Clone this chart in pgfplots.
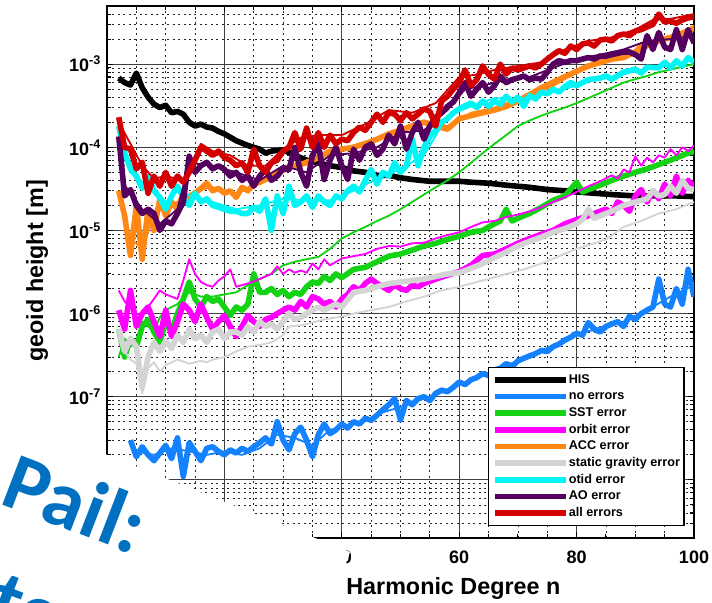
\documentclass[border=0pt]{standalone}
\usepackage{pgfplots}
\pgfplotsset{compat=1.18}
\usepackage{fontspec}
\setmainfont{Liberation Sans}
\newfontfamily\carlito{Carlito}
\definecolor{cNo}{RGB}{20,130,255}
\definecolor{cSST}{RGB}{20,210,20}
\definecolor{cOrb}{RGB}{255,0,255}
\definecolor{cACC}{RGB}{255,135,20}
\definecolor{cSta}{RGB}{212,212,212}
\definecolor{cOt}{RGB}{0,245,245}
\definecolor{cAO}{RGB}{85,0,95}
\definecolor{cAll}{RGB}{210,0,0}
\definecolor{pailblue}{RGB}{0,112,192}
\pgfplotsset{thk/.style={line width=4.2pt, line join=round},
  thn/.style={line width=1.4pt, line join=round, forget plot}}
\begin{document}
\begin{tikzpicture}
\useasboundingbox (0,0) rectangle (534pt,451.5pt);
\clip (0,0) rectangle (534pt,451.5pt);
\begin{axis}[
  at={(80.25pt,48pt)}, anchor=south west,
  scale only axis, width=440.25pt, height=399pt,
  xmin=0, xmax=100, ymin=2e-9, ymax=5e-3, ymode=log,
  xtick={0,20,40,60,80,100},
  xticklabels={{},{},\textbf{40},\textbf{60},\textbf{80},\textbf{100}},
  minor x tick num=3,
  ytick={1e-8,1e-7,1e-6,1e-5,1e-4,1e-3},
  yticklabels={{},10\textsuperscript{-7},10\textsuperscript{-6},10\textsuperscript{-5},10\textsuperscript{-4},10\textsuperscript{-3}},
  minor ytick={2e-9,3e-9,4e-9,5e-9,6e-9,7e-9,8e-9,9e-9,
    2e-8,3e-8,4e-8,5e-8,6e-8,7e-8,8e-8,9e-8,
    2e-7,3e-7,4e-7,5e-7,6e-7,7e-7,8e-7,9e-7,
    2e-6,3e-6,4e-6,5e-6,6e-6,7e-6,8e-6,9e-6,
    2e-5,3e-5,4e-5,5e-5,6e-5,7e-5,8e-5,9e-5,
    2e-4,3e-4,4e-4,5e-4,6e-4,7e-4,8e-4,9e-4,
    2e-3,3e-3,4e-3},
  ticklabel style={font=\bfseries\fontsize{13.5}{16}\selectfont},
  xticklabel style={yshift=-6pt},
  yticklabel style={xshift=-1pt},
  grid=both,
  major grid style={black!75, line width=0.8pt},
  minor grid style={black!85, line width=0.6pt, dash pattern=on 1.5pt off 2.6pt},
  tick align=inside, major tick length=4.5pt, minor tick length=3pt,
  tick style={black, line width=0.8pt},
  axis line style={line width=1.5pt},
  xlabel={\bfseries Harmonic Degree n},
  ylabel={\bfseries geoid height [m]},
  label style={font=\bfseries\fontsize{17.5}{20}\selectfont},
  xlabel style={at={(axis description cs:0.59,-0.107)}, anchor=base},
  ylabel style={at={(axis description cs:-0.119,0.502)}, anchor=center},
  legend cell align=left,
  legend style={at={(0.649,0.321)}, anchor=north west, draw=black, line width=0.8pt,
    fill=white, font=\bfseries\fontsize{9.5}{11}\selectfont,
    inner xsep=3pt, inner ysep=4.5pt, row sep=3.5pt,
    nodes={inner sep=0pt, text height=7pt, text depth=2pt}},
  legend image code/.code={\draw[#1, line width=4pt] (0pt,0pt) -- (45pt,0pt); \path (0pt,0pt) -- (53pt,0pt);},
]
% HIS
\addplot[thk, black] table {
n v
2 6.8e-4
3 6.0e-4
4 5.6e-4
5 7.8e-4
6 5.2e-4
7 4.0e-4
8 3.3e-4
9 3.0e-4
10 3.2e-4
11 2.6e-4
12 2.7e-4
13 2.5e-4
14 2.0e-4
15 1.8e-4
16 1.9e-4
17 1.75e-4
18 1.7e-4
19 1.55e-4
20 1.45e-4
22 1.2e-4
24 1.05e-4
26 9.5e-5
27 8.5e-5
28 9.0e-5
30 9.3e-5
32 8.0e-5
34 7.0e-5
36 6.5e-5
38 6.0e-5
40 5.7e-5
42 5.2e-5
44 5.0e-5
46 4.6e-5
48 4.6e-5
50 4.3e-5
52 4.1e-5
55 3.9e-5
58 3.9e-5
60 3.9e-5
62 3.8e-5
65 3.7e-5
68 3.5e-5
70 3.4e-5
72 3.3e-5
75 3.1e-5
78 3.0e-5
80 2.9e-5
83 2.8e-5
86 2.7e-5
90 2.6e-5
94 2.6e-5
97 2.6e-5
100 2.55e-5
};
\addlegendentry{HIS}
% no errors
\addplot[thk, cNo] table {
n v
4 3.0e-8
5 1.9e-8
6 2.5e-8
7 2.0e-8
8 1.7e-8
9 2.1e-8
10 2.6e-8
11 1.8e-8
12 3.2e-8
13 1.1e-8
14 2.8e-8
15 2.2e-8
16 1.7e-8
17 2.4e-8
18 2.5e-8
19 2.2e-8
20 2.0e-8
21 2.3e-8
22 2.1e-8
23 2.4e-8
24 2.2e-8
25 2.5e-8
26 2.8e-8
27 3.2e-8
28 2.7e-8
29 5.0e-8
30 3.0e-8
31 2.3e-8
32 3.6e-8
33 4.3e-8
34 3.0e-8
35 1.9e-8
36 3.5e-8
37 4.7e-8
38 3.6e-8
39 4.0e-8
40 4.7e-8
41 4.2e-8
42 5.0e-8
43 4.7e-8
44 5.5e-8
45 5.2e-8
46 6.0e-8
47 7.0e-8
48 8.0e-8
49 9.5e-8
50 5.3e-8
51 9.0e-8
52 8.0e-8
53 9.5e-8
54 1.0e-7
55 9.0e-8
56 1.1e-7
57 1.2e-7
58 1.15e-7
59 1.3e-7
60 1.5e-7
61 1.4e-7
62 1.6e-7
63 1.7e-7
64 1.9e-7
65 1.8e-7
66 2.1e-7
67 2.2e-7
68 2.5e-7
69 2.3e-7
70 2.7e-7
71 2.9e-7
72 3.1e-7
73 3.3e-7
74 3.6e-7
75 3.5e-7
76 4.0e-7
77 4.3e-7
78 4.8e-7
79 5.2e-7
80 5.8e-7
81 5.5e-7
82 7.8e-7
83 6.5e-7
84 6.0e-7
85 7.0e-7
86 7.5e-7
87 8.0e-7
88 7.0e-7
89 9.3e-7
90 8.5e-7
91 1.0e-6
92 1.1e-6
93 1.2e-6
94 2.6e-6
95 1.3e-6
96 1.2e-6
97 2.0e-6
98 1.3e-6
99 3.4e-6
100 1.6e-6
};
\addlegendentry{no errors}
\addplot[thn, cNo] table {
n v
5 2.2e-8
8 2.0e-8
11 2.4e-8
14 2.2e-8
17 2.0e-8
20 2.2e-8
23 2.0e-8
26 2.4e-8
29 3.5e-8
32 3.2e-8
35 2.6e-8
38 4.0e-8
41 4.5e-8
44 5.2e-8
47 6.5e-8
50 7.5e-8
53 9.0e-8
56 1.05e-7
60 1.4e-7
64 1.8e-7
68 2.4e-7
72 3.0e-7
76 4.2e-7
80 5.5e-7
84 6.8e-7
88 8.0e-7
92 1.1e-6
96 1.6e-6
100 2.2e-6
};
% SST
\addplot[thk, cSST] table {
n v
2 6.5e-7
3 3.0e-7
4 5.0e-7
5 4.0e-7
6 7.0e-7
7 8.5e-7
8 6.0e-7
9 4.5e-7
10 8.0e-7
11 6.0e-7
12 1.0e-6
13 1.5e-6
14 2.4e-6
15 1.5e-6
16 1.2e-6
17 1.6e-6
18 1.4e-6
19 1.5e-6
20 1.2e-6
21 9.5e-7
22 1.2e-6
23 1.1e-6
24 1.3e-6
25 3.0e-6
26 1.8e-6
27 1.8e-6
28 2.0e-6
29 1.7e-6
30 1.9e-6
31 1.6e-6
32 1.8e-6
33 1.7e-6
34 2.1e-6
35 2.4e-6
36 2.3e-6
37 2.8e-6
38 2.5e-6
39 3.0e-6
40 2.7e-6
42 3.4e-6
44 3.6e-6
46 4.2e-6
48 4.9e-6
50 5.2e-6
52 5.8e-6
54 6.5e-6
56 7.0e-6
58 7.8e-6
60 8.5e-6
62 9.5e-6
64 1.0e-5
65 1.1e-5
66 1.2e-5
67 1.3e-5
68 1.8e-5
69 1.3e-5
70 1.4e-5
71 1.5e-5
72 1.6e-5
74 1.9e-5
76 2.3e-5
78 2.6e-5
80 3.8e-5
81 2.9e-5
82 3.1e-5
84 3.5e-5
86 4.0e-5
88 4.5e-5
90 5.0e-5
92 5.5e-5
94 6.2e-5
96 7.0e-5
98 8.0e-5
100 9.0e-5
};
\addlegendentry{SST error}
\addplot[thn, cSST] table {
n v
2 3.0e-7
3 5.0e-7
4 4.0e-7
5 4.5e-7
6 8.0e-7
7 7.0e-7
8 6.0e-7
9 9.0e-7
10 1.1e-6
12 1.3e-6
14 1.8e-6
16 1.6e-6
18 1.6e-6
20 1.7e-6
22 1.8e-6
24 2.2e-6
26 2.6e-6
28 3.0e-6
30 3.8e-6
32 4.2e-6
34 4.5e-6
36 4.8e-6
38 6.0e-6
40 8.0e-6
42 9.5e-6
44 1.1e-5
46 1.3e-5
48 1.5e-5
50 1.8e-5
52 2.2e-5
54 2.7e-5
56 3.3e-5
58 4.0e-5
60 5.0e-5
62 6.5e-5
64 8.5e-5
66 1.1e-4
68 1.4e-4
70 1.8e-4
72 2.1e-4
74 2.4e-4
76 2.7e-4
78 3.0e-4
80 3.4e-4
82 3.9e-4
84 4.5e-4
86 5.2e-4
88 6.0e-4
90 6.6e-4
92 7.2e-4
94 8.0e-4
96 8.6e-4
98 9.3e-4
100 1.0e-3
};
% orbit
\addplot[thk, cOrb] table {
n v
2 1.1e-6
3 6.5e-7
4 1.9e-6
5 7.0e-7
6 1.0e-6
7 1.2e-6
8 8.0e-7
9 5.3e-7
10 1.1e-6
11 5.3e-7
12 8.0e-7
13 1.3e-6
14 1.1e-6
15 8.0e-7
16 1.3e-6
17 9.0e-7
18 6.5e-7
19 8.0e-7
20 9.5e-7
21 7.0e-7
22 5.3e-7
23 7.0e-7
24 9.5e-7
25 8.0e-7
26 7.0e-7
27 8.5e-7
28 9.0e-7
29 1.0e-6
30 1.1e-6
31 1.2e-6
32 1.1e-6
33 1.4e-6
34 1.2e-6
35 1.6e-6
36 1.5e-6
37 1.3e-6
38 1.4e-6
39 1.2e-6
40 1.5e-6
41 1.7e-6
42 2.1e-6
43 1.9e-6
44 2.3e-6
45 2.6e-6
46 2.3e-6
47 2.1e-6
48 1.9e-6
49 2.2e-6
50 2.0e-6
51 1.9e-6
52 2.2e-6
53 2.1e-6
54 2.3e-6
56 2.6e-6
58 2.9e-6
60 3.2e-6
62 3.8e-6
64 5.0e-6
66 5.2e-6
68 6.0e-6
70 7.0e-6
72 8.0e-6
74 9.0e-6
76 1.0e-5
78 1.2e-5
80 1.35e-5
82 1.5e-5
84 1.7e-5
85 1.8e-5
86 1.6e-5
87 2.2e-5
88 2.0e-5
89 1.7e-5
90 2.6e-5
91 3.1e-5
92 2.2e-5
93 3.0e-5
94 2.4e-5
95 3.6e-5
96 2.6e-5
97 4.5e-5
98 2.8e-5
99 4.0e-5
100 3.4e-5
};
\addlegendentry{orbit error}
\addplot[thn, cOrb] table {
n v
2 1.9e-6
3 1.4e-6
4 1.2e-6
5 1.0e-6
6 9.5e-7
7 1.2e-6
8 1.5e-6
9 1.9e-6
10 1.7e-6
11 1.6e-6
12 1.5e-6
13 2.5e-6
14 4.5e-6
15 3.0e-6
16 2.4e-6
17 2.2e-6
18 2.1e-6
19 2.5e-6
20 2.8e-6
21 3.4e-6
22 2.1e-6
24 2.3e-6
26 2.6e-6
28 3.0e-6
29 3.7e-6
30 3.0e-6
31 3.4e-6
32 3.1e-6
33 3.3e-6
34 3.1e-6
35 4.0e-6
36 3.4e-6
37 4.5e-6
38 3.8e-6
40 4.6e-6
42 4.9e-6
44 5.2e-6
46 6.0e-6
48 6.5e-6
50 6.4e-6
52 7.0e-6
54 7.1e-6
56 8.0e-6
58 8.8e-6
60 9.5e-6
62 1.1e-5
64 1.25e-5
66 1.3e-5
68 1.45e-5
70 1.55e-5
72 1.7e-5
74 1.9e-5
76 2.2e-5
78 2.5e-5
80 2.9e-5
82 3.4e-5
84 3.9e-5
86 4.6e-5
87 4.2e-5
88 5.4e-5
89 5.0e-5
90 7.8e-5
91 6.0e-5
92 7.5e-5
93 6.6e-5
94 8.0e-5
95 7.5e-5
96 9.5e-5
97 8.0e-5
98 1.0e-4
99 9.0e-5
100 1.05e-4
};
% ACC
\addplot[thk, cACC] table {
n v
2 3.0e-5
3 1.5e-5
4 5.0e-6
5 2.0e-5
6 4.5e-6
7 1.8e-5
8 1.0e-5
9 2.4e-5
10 1.5e-5
11 2.2e-5
12 1.8e-5
13 2.8e-5
14 2.2e-5
15 2.8e-5
16 3.2e-5
17 3.7e-5
18 3.0e-5
19 3.2e-5
20 2.8e-5
21 3.0e-5
22 2.5e-5
23 3.3e-5
24 3.0e-5
25 3.6e-5
26 3.8e-5
27 4.1e-5
28 4.5e-5
29 5.0e-5
30 5.5e-5
31 5.8e-5
32 6.0e-5
34 6.5e-5
36 7.5e-5
38 9.0e-5
40 9.5e-5
42 1.0e-4
44 1.1e-4
46 1.25e-4
48 1.45e-4
50 1.6e-4
52 1.8e-4
54 2.0e-4
56 1.8e-4
58 1.65e-4
60 2.2e-4
62 2.4e-4
64 2.6e-4
66 2.8e-4
68 3.1e-4
70 3.6e-4
72 4.3e-4
74 5.0e-4
76 5.8e-4
78 7.0e-4
80 8.2e-4
82 9.5e-4
84 1.05e-3
86 1.15e-3
88 1.2e-3
90 1.4e-3
91 1.65e-3
93 1.8e-3
95 2.0e-3
97 2.2e-3
99 2.5e-3
100 2.7e-3
};
\addlegendentry{ACC error}
\addplot[thn, cACC] table {
n v
2 2.8e-5
4 8.0e-6
6 6.0e-6
8 1.5e-5
10 2.0e-5
12 2.2e-5
15 3.0e-5
18 3.3e-5
22 2.8e-5
26 3.6e-5
30 5.0e-5
34 7.0e-5
38 8.5e-5
42 1.05e-4
46 1.3e-4
50 1.7e-4
54 2.1e-4
58 1.8e-4
62 2.6e-4
66 3.0e-4
70 3.8e-4
74 5.5e-4
78 7.5e-4
82 9.0e-4
86 1.1e-3
90 1.3e-3
94 1.9e-3
97 2.3e-3
100 2.9e-3
};
% static gravity
\addplot[thk, cSta] table {
n v
2 6.5e-7
3 3.5e-7
4 5.0e-7
5 4.0e-7
6 1.3e-7
7 3.0e-7
8 4.5e-7
9 3.5e-7
10 4.7e-7
11 3.8e-7
12 5.5e-7
13 4.5e-7
14 6.5e-7
15 5.0e-7
16 5.5e-7
17 4.5e-7
18 6.0e-7
19 6.5e-7
20 5.0e-7
21 6.0e-7
22 6.0e-7
23 5.5e-7
24 7.0e-7
25 6.0e-7
26 8.0e-7
27 7.0e-7
28 7.5e-7
29 6.5e-7
30 8.0e-7
31 1.0e-6
32 8.5e-7
33 9.0e-7
34 1.0e-6
35 1.1e-6
36 1.2e-6
37 1.1e-6
38 1.2e-6
39 1.3e-6
40 1.2e-6
42 1.8e-6
44 1.9e-6
46 2.1e-6
48 2.3e-6
50 2.4e-6
52 2.5e-6
54 2.6e-6
56 2.8e-6
58 3.0e-6
60 3.1e-6
62 3.5e-6
64 4.0e-6
66 4.7e-6
68 5.5e-6
70 6.5e-6
72 7.4e-6
74 8.3e-6
76 9.5e-6
78 1.05e-5
80 1.2e-5
81 1.35e-5
82 1.8e-5
83 1.4e-5
84 1.5e-5
86 1.7e-5
88 2.0e-5
90 2.2e-5
92 2.4e-5
93 3.0e-5
94 2.6e-5
95 2.7e-5
96 3.4e-5
97 2.8e-5
98 4.0e-5
99 3.2e-5
100 3.1e-5
};
\addlegendentry{static gravity error}
\addplot[thn, cSta] table {
n v
2 5.0e-7
3 3.5e-7
4 2.8e-7
5 2.5e-7
6 1.1e-7
7 2.2e-7
8 2.6e-7
9 2.0e-7
10 2.4e-7
12 2.8e-7
14 2.5e-7
16 2.7e-7
17 2.6e-7
18 2.8e-7
20 3.0e-7
22 3.5e-7
24 4.0e-7
26 4.2e-7
28 4.5e-7
30 5.5e-7
31 7.0e-7
33 7.2e-7
35 7.8e-7
37 8.5e-7
40 9.2e-7
42 1.0e-6
45 1.1e-6
48 1.2e-6
51 1.4e-6
54 1.6e-6
57 1.9e-6
60 2.1e-6
63 2.4e-6
65 2.6e-6
68 3.0e-6
71 3.4e-6
74 4.0e-6
77 4.9e-6
80 6.0e-6
83 7.0e-6
85 7.8e-6
88 1.1e-5
91 1.3e-5
94 1.6e-5
97 1.8e-5
100 2.2e-5
};
% otid
\addplot[thk, cOt] table {
n v
2 1.8e-4
3 8.6e-5
4 5.5e-5
5 4.5e-5
6 3.2e-5
7 4.5e-5
8 3.0e-5
9 2.5e-5
10 1.8e-5
11 2.6e-5
12 3.4e-5
13 2.5e-5
14 2.0e-5
15 2.8e-5
16 2.2e-5
17 2.4e-5
18 2.0e-5
19 1.9e-5
20 1.8e-5
21 1.7e-5
22 1.7e-5
23 1.6e-5
24 1.6e-5
25 1.9e-5
26 1.7e-5
27 2.4e-5
28 1.0e-5
29 2.6e-5
30 1.6e-5
31 3.4e-5
32 2.0e-5
33 2.2e-5
34 2.6e-5
35 1.9e-5
36 2.6e-5
37 2.2e-5
38 2.0e-5
39 2.6e-5
40 2.4e-5
41 3.0e-5
42 3.4e-5
43 2.9e-5
44 4.0e-5
45 5.4e-5
46 3.6e-5
47 5.0e-5
48 4.5e-5
49 6.5e-5
50 5.0e-5
51 6.0e-5
52 1.25e-4
53 6.0e-5
54 1.0e-4
55 1.35e-4
56 1.6e-4
57 2.0e-4
58 2.2e-4
59 2.6e-4
60 2.9e-4
62 3.4e-4
63 3.0e-4
64 3.6e-4
65 3.1e-4
66 3.6e-4
67 3.3e-4
68 4.1e-4
69 3.5e-4
70 4.0e-4
71 3.1e-4
72 4.2e-4
73 3.8e-4
74 4.6e-4
75 4.4e-4
76 5.0e-4
77 4.6e-4
78 5.4e-4
79 6.0e-4
80 5.5e-4
82 6.5e-4
84 6.8e-4
85 7.2e-4
86 6.6e-4
88 8.0e-4
90 8.7e-4
91 7.8e-4
92 9.2e-4
94 9.0e-4
95 1.05e-3
96 9.0e-4
97 1.1e-3
98 9.5e-4
99 1.2e-3
100 1.05e-3
};
\addlegendentry{otid error}
\addplot[thn, cOt] table {
n v
2 1.5e-4
4 5.0e-5
6 3.6e-5
8 3.2e-5
10 2.2e-5
12 3.0e-5
15 2.5e-5
18 2.2e-5
22 1.8e-5
26 2.0e-5
30 2.4e-5
34 2.3e-5
38 2.3e-5
42 3.0e-5
46 4.2e-5
50 5.5e-5
54 8.0e-5
58 2.4e-4
62 3.1e-4
66 3.9e-4
70 3.8e-4
74 4.3e-4
78 5.0e-4
82 6.2e-4
86 7.0e-4
90 8.2e-4
94 9.5e-4
97 1.0e-3
100 1.15e-3
};
% AO
\addplot[thk, cAO] table {
n v
2 1.35e-4
3 2.6e-5
4 3.1e-5
5 2.0e-5
6 1.6e-5
7 1.8e-5
8 1.6e-5
9 1.0e-5
10 1.3e-5
11 1.2e-5
12 1.6e-5
13 2.2e-5
14 7.8e-5
15 5.0e-5
16 6.0e-5
17 6.6e-5
18 5.5e-5
19 6.0e-5
20 5.4e-5
21 4.5e-5
22 5.0e-5
23 4.0e-5
24 4.5e-5
25 3.4e-5
26 4.5e-5
27 5.4e-5
28 4.0e-5
29 4.5e-5
30 5.5e-5
31 5.4e-5
32 1.0e-4
33 5.0e-5
34 3.4e-5
35 8.0e-5
36 1.1e-4
37 4.1e-5
38 7.0e-5
39 1.0e-4
40 6.0e-5
41 4.1e-5
42 9.5e-5
43 7.0e-5
44 1.0e-4
45 1.1e-4
46 8.0e-5
47 9.5e-5
48 1.4e-4
49 1.1e-4
50 1.8e-4
51 9.5e-5
52 1.5e-4
53 2.0e-4
54 1.25e-4
55 1.8e-4
56 2.3e-4
57 2.6e-4
58 3.1e-4
59 3.5e-4
60 4.5e-4
61 6.0e-4
62 4.1e-4
63 5.0e-4
64 6.0e-4
65 4.6e-4
66 5.5e-4
67 7.2e-4
68 6.0e-4
69 6.5e-4
70 6.8e-4
71 7.2e-4
72 6.5e-4
73 6.8e-4
74 6.6e-4
75 8.0e-4
76 1.0e-3
77 1.1e-3
78 1.05e-3
79 1.1e-3
80 1.1e-3
81 1.15e-3
82 1.2e-3
83 1.15e-3
84 1.25e-3
85 1.25e-3
86 1.3e-3
87 1.35e-3
88 1.4e-3
89 1.4e-3
90 1.3e-3
91 1.15e-3
92 2.2e-3
93 1.5e-3
94 2.4e-3
95 1.6e-3
96 1.5e-3
97 2.6e-3
98 1.5e-3
99 2.6e-3
100 1.8e-3
};
\addlegendentry{AO error}
\addplot[thn, cAO] table {
n v
2 1.2e-4
3 3.5e-5
6 1.8e-5
9 1.2e-5
12 1.8e-5
14 6.5e-5
18 6.0e-5
22 5.0e-5
26 4.0e-5
30 6.0e-5
34 5.0e-5
38 8.0e-5
42 8.5e-5
46 1.0e-4
50 1.5e-4
54 1.6e-4
58 2.8e-4
61 5.0e-4
64 5.5e-4
68 6.5e-4
72 7.0e-4
76 9.0e-4
80 1.15e-3
84 1.3e-3
88 1.5e-3
92 1.9e-3
96 2.0e-3
100 2.2e-3
};
% all errors
\addplot[thk, cAll] table {
n v
2 2.3e-4
3 1.0e-4
4 9.5e-5
5 5.5e-5
6 6.6e-5
7 2.8e-5
8 4.5e-5
9 3.4e-5
10 5.0e-5
11 3.4e-5
12 4.5e-5
13 3.8e-5
14 5.0e-5
15 7.0e-5
16 1.0e-4
17 9.0e-5
18 8.0e-5
19 9.0e-5
20 7.5e-5
21 7.0e-5
22 6.0e-5
23 6.5e-5
24 5.0e-5
25 9.5e-5
26 6.0e-5
27 5.0e-5
28 6.5e-5
29 7.0e-5
30 9.0e-5
31 1.0e-4
32 1.5e-4
33 9.5e-5
34 1.7e-4
35 1.0e-4
36 1.5e-4
37 1.0e-4
38 1.4e-4
39 1.1e-4
40 1.25e-4
41 1.2e-4
42 1.5e-4
43 1.75e-4
44 1.6e-4
45 2.0e-4
46 2.5e-4
47 2.0e-4
48 2.6e-4
49 2.5e-4
50 2.1e-4
51 2.6e-4
52 2.2e-4
53 2.5e-4
54 2.9e-4
55 2.7e-4
56 1.8e-4
57 3.6e-4
58 4.1e-4
59 5.0e-4
60 6.0e-4
61 8.5e-4
62 5.5e-4
63 6.5e-4
64 9.5e-4
65 7.5e-4
66 6.6e-4
67 1.0e-3
68 7.6e-4
69 9.0e-4
70 8.5e-4
71 9.0e-4
72 9.5e-4
73 9.0e-4
74 1.0e-3
75 1.15e-3
76 1.3e-3
77 1.45e-3
78 1.35e-3
79 1.65e-3
80 1.5e-3
81 1.75e-3
82 1.8e-3
83 1.65e-3
84 1.95e-3
85 2.0e-3
86 1.9e-3
87 2.2e-3
88 2.3e-3
89 2.2e-3
90 2.5e-3
91 2.6e-3
92 2.8e-3
93 3.0e-3
94 4.0e-3
95 3.2e-3
96 3.3e-3
97 3.1e-3
98 3.4e-3
99 3.6e-3
100 3.7e-3
};
\addlegendentry{all errors}
\addplot[thn, cAll] table {
n v
2 2.0e-4
4 1.1e-4
6 6.0e-5
8 4.2e-5
10 4.5e-5
13 4.0e-5
16 1.1e-4
18 9.0e-5
21 8.0e-5
24 6.0e-5
27 6.0e-5
30 9.5e-5
33 1.3e-4
36 1.4e-4
40 1.4e-4
44 1.9e-4
48 2.8e-4
52 2.6e-4
56 3.4e-4
60 7.0e-4
63 7.5e-4
66 8.5e-4
70 9.5e-4
74 1.05e-3
78 1.5e-3
82 1.9e-3
86 2.1e-3
90 2.6e-3
93 3.4e-3
96 3.5e-3
100 4.0e-3
};
\end{axis}
% white rotated banner with blue text
\fill[white] (-5pt,147.5pt) -- (0pt,142.5pt) -- (262.5pt,37.5pt) -- (247.5pt,-5pt) -- (-5pt,-5pt) -- cycle;
\node[anchor=base west, rotate=-21, inner sep=0pt, text=pailblue, font=\carlito\bfseries\fontsize{61}{70}\selectfont] at (-1pt,74pt) {Pail:};
\node[anchor=base west, rotate=-21, inner sep=0pt, text=pailblue, font=\carlito\bfseries\fontsize{61}{70}\selectfont] at (-11pt,-14pt) {te};
\end{tikzpicture}
\end{document}
